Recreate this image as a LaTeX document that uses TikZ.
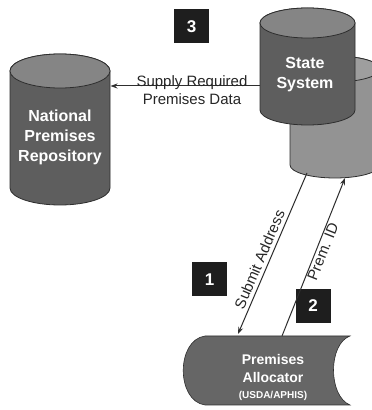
\documentclass[tikz,border=0pt]{standalone}
\usepackage{fontspec}
\setmainfont{Liberation Sans}
\usetikzlibrary{arrows.meta,calc}
\definecolor{bodyDark}{HTML}{5E5E5E}
\definecolor{topMid}{HTML}{858585}
\definecolor{backGray}{HTML}{939393}
\definecolor{allocGray}{HTML}{666666}
\definecolor{edgeGray}{HTML}{2E2E2E}
\definecolor{boxBlack}{HTML}{1E1E1E}
\tikzset{
  cylbody/.style={fill=bodyDark, draw=edgeGray, line width=0.8pt},
  cyltop/.style={fill=topMid, draw=edgeGray, line width=0.8pt},
  cyltext/.style={text=white, font=\fontsize{16}{20}\selectfont\bfseries, align=center, inner sep=0pt},
  numbox/.style={fill=boxBlack, text=white, font=\fontsize{17}{20}\selectfont\bfseries, minimum width=35pt, minimum height=34pt, inner sep=0pt},
  conn/.style={draw=edgeGray, line width=1pt, -{Stealth[length=7pt,width=5pt]}},
  lbl/.style={font=\fontsize{15}{18}\selectfont, text=black!85},
}
\begin{document}
\begin{tikzpicture}[x=1pt,y=1pt]
\useasboundingbox (0,0) rectangle (372,410);
\fill[white] (0,0) rectangle (372,410);

% back cylinder of state system
\begin{scope}
\clip (0,0) rectangle (372,410);
\path[fill=backGray, draw=edgeGray, line width=0.8pt]
  (290,341) -- (290,245) arc[start angle=180, end angle=360, x radius=45, y radius=13]
  -- (380,341) arc[start angle=0, end angle=180, x radius=45, y radius=13] -- cycle;
\path[fill=backGray!90!white, draw=edgeGray, line width=0.8pt] (335,341) ellipse[x radius=45, y radius=13];
\end{scope}

% front cylinder of state system
\path[cylbody] (260,387) -- (260,300) arc[start angle=180, end angle=360, x radius=47.5, y radius=15]
  -- (355,387) arc[start angle=0, end angle=180, x radius=47.5, y radius=15] -- cycle;
\path[cyltop] (307.5,387) ellipse[x radius=47.5, y radius=15];
\node[cyltext] (ss) at (305,335) {State\\System};

% national premises repository
\path[cylbody] (10,339) -- (10,222) arc[start angle=180, end angle=360, x radius=50, y radius=17]
  -- (110,339) arc[start angle=0, end angle=180, x radius=50, y radius=17] -- cycle;
\path[cyltop] (60,339) ellipse[x radius=50, y radius=17];
\node[cyltext] (npr) at (60,273) {National\\Premises\\Repository};

% premises allocator
\path[fill=allocGray, draw=edgeGray, line width=0.6pt]
  (205,74) -- (350,74) .. controls (328,66) and (328,14) .. (350,5)
  -- (205,5) .. controls (176,9) and (176,70) .. (205,74) -- cycle;
\node[text=white, align=center, inner sep=0pt, font=\fontsize{14}{18}\selectfont\bfseries] (pa) at (273,33)
  {Premises\\Allocator\\[-2pt]{\fontsize{10}{12}\selectfont (USDA/APHIS)}};

% number boxes
\node[numbox] (n3) at (191.5,383.5) {3};
\node[numbox] (n1) at (209.5,130.5) {1};
\node[numbox] (n2) at (313,104) {2};

% connector attachment points
\coordinate (ssW) at (260,324);
\coordinate (nprE) at (110.5,324);
\coordinate (backS1) at (307,237);
\coordinate (paTop1) at (238,76);
\coordinate (paTop2) at (282,74);
\coordinate (backS2) at (345,232);

% connectors
\draw[conn] (ssW) -- (nprE);
\node[lbl, align=center, inner sep=0pt] (supply) at (192,320) {Supply Required\\Premises Data};
\draw[conn, {Stealth[length=7pt,width=5pt]}-] (paTop1) -- node[lbl, sloped, above, pos=0.44, inner sep=3.5pt] {Submit Address} (backS1);
\draw[conn] (paTop2) -- node[lbl, sloped, below, pos=0.55, inner sep=1pt] {Prem. ID} (backS2);
\end{tikzpicture}
\end{document}
